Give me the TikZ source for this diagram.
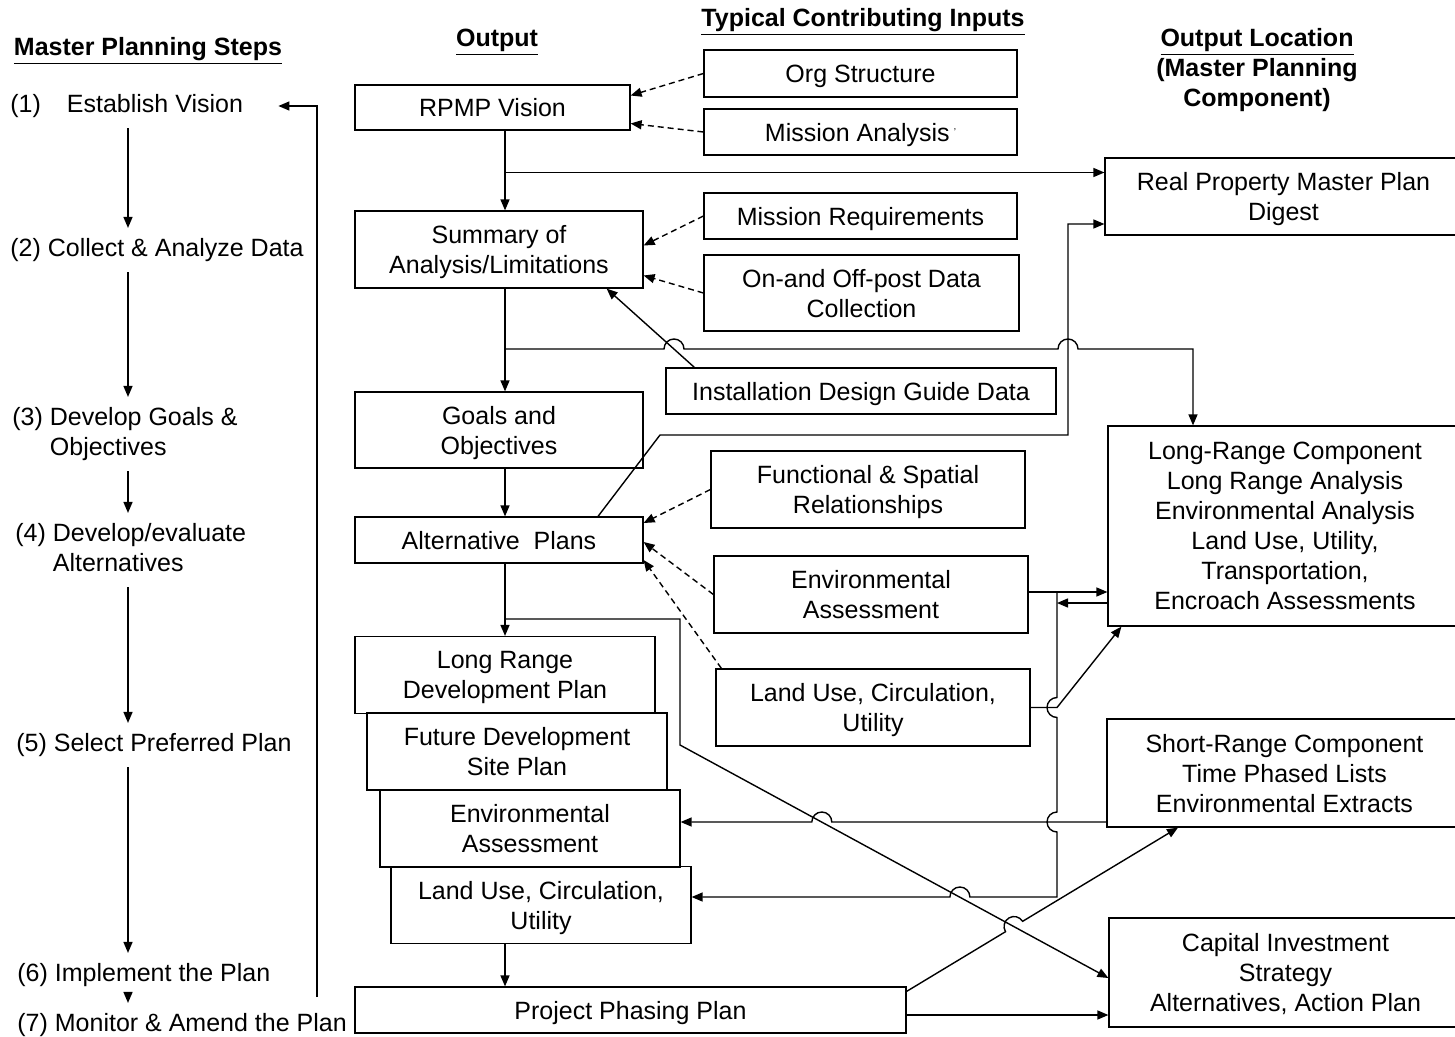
\documentclass[tikz,border=0pt]{standalone}
\usepackage{fontspec}
\setmainfont{Liberation Sans}
\usetikzlibrary{arrows.meta,calc}
\newcommand{\plfont}{\fontsize{12.5}{15}\selectfont}
\tikzset{
  box/.style={draw, line width=0.6pt, align=center, inner sep=2pt, text depth=0pt},
  outbox/.style={box, minimum width=150pt, minimum height=38.5pt},
  inbox/.style={box, minimum width=157pt, minimum height=38.5pt},
  head/.style={font=\plfont\bfseries, align=center, inner sep=0pt},
  stepnode/.style={anchor=west, align=left, inner sep=5pt},
  wire/.style={line width=0.7pt},
  link/.style={wire, -{Triangle[length=5.5pt,width=4.5pt]}},
  feed/.style={link, dash pattern=on 3pt off 2pt}
}
\begin{document}
\begin{tikzpicture}[x=0.5pt,y=-0.5pt,font=\plfont]
\useasboundingbox (0,0) rectangle (1455,1037);

% Headings
\node[head] (hsteps) at (148,51) {\underline{Master Planning Steps}};
\node[head] (hout) at (497,42) {\underline{Output}};
\node[head] (hin) at (863,22) {\underline{Typical Contributing Inputs}};
\node[head] (hloc) at (1257,70) {\underline{Output Location}\\(Master Planning\\Component)};

% Planning steps
\node[stepnode] (s1) at (0,106) {(1)\hspace{13pt}Establish Vision};
\node[stepnode] (s2) at (0,250) {(2) Collect \& Analyze Data};
\node[stepnode] (s3) at (2,434) {(3) Develop Goals \&\\\phantom{(3) }Objectives};
\node[stepnode] (s4) at (5,550) {(4) Develop/evaluate\\\phantom{(4) }Alternatives};
\node[stepnode] (s5) at (6,745) {(5) Select Preferred Plan};
\node[stepnode] (s6) at (7,975) {(6) Implement the Plan};
\node[stepnode] (s7) at (7,1025) {(7) Monitor \& Amend the Plan};

\coordinate (stepx) at (128,0);
\draw[link] (s1.south -| stepx) -- (s2.north -| stepx);
\draw[link] (s2.south -| stepx) -- (s3.north -| stepx);
\draw[link] (s3.south -| stepx) -- (s4.north -| stepx);
\draw[link] (s4.south -| stepx) -- (s5.north -| stepx);
\draw[link] (s5.south -| stepx) -- (s6.north -| stepx);
\draw[link] (s6.south -| stepx) -- (s7.north -| stepx);

% Feedback to the vision
\coordinate (fbend) at (317,997);
\draw[link, shorten >=12.5pt] (fbend) |- (s1.east);

% Output column
\node[box, minimum width=137.5pt, minimum height=22.5pt] (vision) at (492.5,107.5) {RPMP Vision};
\node[box, minimum width=144pt, minimum height=38.5pt] (summary) at (499,249.5) {Summary of\\Analysis/Limitations};
\node[box, minimum width=144pt, minimum height=38pt] (goals) at (499,430) {Goals and\\Objectives};
\node[box, minimum width=144pt, minimum height=23pt] (alt) at (499,540) {Alternative\ \ Plans};
\node[outbox] (lrdp) at (505,675) {Long Range\\Development Plan};
\node[outbox] (fdsp) at (517,751.5) {Future Development\\Site Plan};
\node[outbox] (envout) at (530,828.5) {Environmental\\Assessment};
\node[outbox] (luout) at (541,905) {Land Use, Circulation,\\Utility};
\node[box, minimum width=275.5pt, minimum height=23pt] (ppp) at (630.5,1010) {Project Phasing Plan};

% Contributing inputs
\node[box, minimum width=156.5pt, minimum height=23.5pt] (org) at (860.5,73.5) {Org Structure};
\node[box, minimum width=156.5pt, minimum height=23pt] (mission) at (860.5,132) {Mission Analysis\,\raisebox{3pt}{\tiny'}};
\node[box, minimum width=156.5pt, minimum height=23pt] (mreq) at (860.5,216) {Mission Requirements};
\node[box, minimum width=157.5pt, minimum height=38pt] (onoff) at (861.5,293) {On-and Off-post Data\\Collection};
\node[box, minimum width=195pt, minimum height=23pt] (idg) at (861,391) {Installation Design Guide Data};
\node[inbox] (func) at (868,489.5) {Functional \& Spatial\\Relationships};
\node[inbox] (envin) at (871,594.5) {Environmental\\Assessment};
\node[inbox] (luin) at (873,707.5) {Land Use, Circulation,\\Utility};

% Output locations
\node[box, minimum width=178.5pt, minimum height=38.5pt] (digest) at (1283.5,196.5) {Real Property Master Plan\\Digest};
\node[box, minimum width=177pt, minimum height=100pt] (lrc) at (1285,526) {Long-Range Component\\Long Range Analysis\\Environmental Analysis\\Land Use, Utility,\\Transportation,\\Encroach Assessments};
\node[box, minimum width=177.5pt, minimum height=54pt] (src) at (1284.5,773) {Short-Range Component\\Time Phased Lists\\Environmental Extracts};
\node[box, minimum width=176.5pt, minimum height=54.5pt] (cis) at (1285.5,972.5) {Capital Investment\\Strategy\\Alternatives, Action Plan};

% Vision
\coordinate (spine) at (505,0);
\draw[feed] (org.west) -- ([yshift=6pt]vision.east);
\draw[feed] (mission.west) -- ([yshift=-8pt]vision.east);
\draw[link] (vision.south -| spine) -- (summary.north -| spine);
\draw[link] ([yshift=12pt]digest.west -| spine) -- ([yshift=12pt]digest.west);

% Analysis
\draw[feed] (mreq.west) -- ([yshift=2pt]summary.east);
\draw[feed] (onoff.west) -- ([yshift=-13pt]summary.east);
\draw[link] ([xshift=14.5pt]idg.north west) -- ([xshift=-18.5pt]summary.south east);
\draw[link] (summary.south -| spine) -- (goals.north -| spine);
\coordinate (branch2) at (505,349);
\draw[link] (branch2) -- (664,349) arc[start angle=180,end angle=360,radius=10]
  -- (1058,349) arc[start angle=180,end angle=360,radius=10]
  -- (1193,349) -- ([xshift=-46pt]lrc.north);

% Alternatives
\draw[link] (goals.south -| spine) -- (alt.north -| spine);
\draw[link] ([xshift=49.5pt]alt.north) -- (660,435) -- (1068,435) |- ([yshift=-13.75pt]digest.west);
\draw[feed] (func.west) -- ([yshift=8.5pt]alt.east);
\draw[feed] (envin.west) -- ([yshift=-1pt]alt.east);
\draw[feed] ([xshift=3pt]luin.north west) -- ([yshift=-10pt]alt.east);
\draw[link] (alt.south -| spine) -- (lrdp.north -| spine);
\coordinate (branch5) at (505,619);
\draw[link] (branch5) -- (680,619) -- (680,745) -- ([yshift=-2.75pt]cis.west);

% Long and short range
\coordinate (lrcin) at ([yshift=-33pt]lrc.west);
\draw[link] (envin.east |- lrcin) -- (lrcin);
\draw[link] ([yshift=-38.5pt]lrc.west) -- (1057,603);
\draw[link] (1057,592) -- (1057,697.5) arc[start angle=270,end angle=90,radius=10]
  -- (1057,812) arc[start angle=270,end angle=90,radius=10]
  -- (1057,897) -- (969.9,897) arc[start angle=0,end angle=-180,radius=10]
  -- ([yshift=4pt]luout.east);
\draw[link] (luin.east) -- (1057,707.5) -- ([xshift=7pt]lrc.south west);
\draw[link] ([yshift=-24.5pt]src.west) -- (831.8,822) arc[start angle=0,end angle=-180,radius=10]
  -- ([yshift=3.25pt]envout.east);

% Phasing
\draw[link] (luout.south -| spine) -- (ppp.north -| spine);
\draw[link] ([yshift=-2.5pt]ppp.north east) -- (1005.5,931.7)
  arc[start angle=148.76,end angle=328.76,radius=10] -- ([xshift=-53.25pt]src.south);
\coordinate (cisin) at ([yshift=-21.25pt]cis.west);
\draw[link] (ppp.east |- cisin) -- (cisin);
\end{tikzpicture}
\end{document}
